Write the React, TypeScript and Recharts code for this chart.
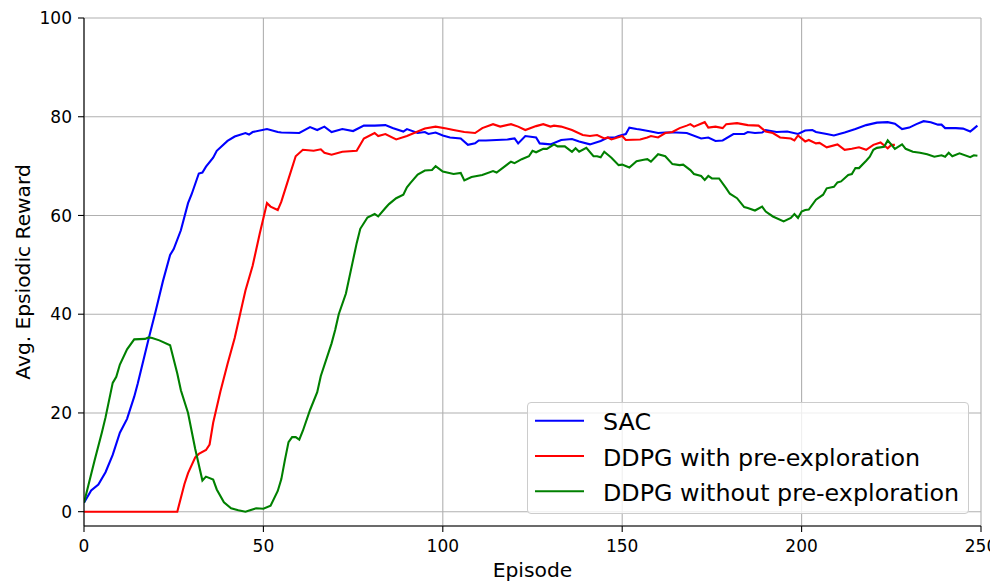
import React from 'react';
import { LineChart, Line, XAxis, YAxis, CartesianGrid, Legend } from 'recharts';

// ---- Data ----
const sacEpisodes = [0, 2, 4, 6, 8, 10, 12, 14, 15, 17, 18, 20, 22, 24, 25, 27, 29, 30, 32, 33, 34, 36, 37, 40, 42, 45, 46, 47, 51, 54, 55, 60, 63, 65, 67, 69, 72, 75, 78, 81, 84, 86, 89, 90, 93, 95, 96, 98, 100, 102, 105, 107, 109, 110, 112, 115, 118, 120, 121, 123, 126, 127, 130, 133, 136, 138, 141, 144, 146, 148, 149, 151, 152, 154, 155, 158, 160, 162, 165, 168, 172, 174, 176, 178, 181, 184, 185, 187, 189, 190, 193, 196, 199, 201, 203, 204, 207, 209, 212, 215, 218, 221, 224, 226, 228, 230, 232, 234, 236, 238, 239, 240, 243, 245, 247, 248, 249];
const sacRewards = [1.8, 4.3, 5.5, 8.0, 11.5, 16.0, 18.8, 23.3, 26.0, 32.0, 35.0, 40.7, 46.7, 52.0, 53.2, 57.0, 62.5, 64.3, 68.5, 68.7, 69.9, 71.7, 73.1, 75.1, 76.0, 76.7, 76.4, 76.9, 77.5, 76.9, 76.8, 76.7, 77.9, 77.3, 78.0, 76.9, 77.5, 77.1, 78.2, 78.2, 78.3, 77.7, 77.0, 77.5, 76.7, 76.9, 76.5, 76.8, 76.2, 75.8, 75.6, 74.3, 74.6, 75.2, 75.2, 75.3, 75.4, 75.6, 74.6, 76.1, 75.8, 74.6, 74.4, 75.3, 75.5, 75.0, 74.4, 75.1, 75.8, 75.8, 76.1, 76.5, 77.8, 77.5, 77.4, 77.0, 76.7, 76.8, 76.8, 76.7, 75.6, 75.8, 75.1, 75.2, 76.5, 76.5, 76.9, 76.7, 76.8, 77.3, 76.9, 77.0, 76.5, 77.2, 77.3, 76.9, 76.5, 76.2, 76.8, 77.5, 78.3, 78.8, 78.9, 78.6, 77.5, 77.8, 78.5, 79.1, 78.9, 78.4, 78.4, 77.7, 77.7, 77.6, 77.0, 77.6, 78.2];

const withPreEpisodes = [0, 26, 28, 29, 31, 32, 34, 35, 36, 38, 40, 42, 44, 45, 47, 49, 51, 52, 54, 55, 57, 59, 61, 64, 66, 67, 69, 72, 76, 78, 81, 82, 84, 87, 90, 93, 95, 98, 101, 103, 106, 109, 111, 114, 116, 119, 121, 123, 126, 128, 130, 131, 133, 136, 139, 141, 143, 145, 146, 147, 150, 151, 155, 157, 158, 160, 162, 164, 166, 168, 169, 170, 173, 174, 176, 178, 179, 182, 185, 188, 190, 192, 194, 197, 198, 199, 201, 202, 204, 205, 207, 210, 212, 214, 216, 218, 220, 222, 224, 225, 226];
const withPreRewards = [0, 0, 5.6, 7.8, 11.0, 11.7, 12.5, 13.6, 18.0, 24.3, 29.9, 35.2, 41.6, 44.8, 49.8, 56.4, 62.5, 61.8, 61.1, 62.8, 67.4, 72.0, 73.3, 73.1, 73.4, 72.7, 72.3, 72.9, 73.1, 75.6, 76.7, 76.1, 76.5, 75.4, 76.1, 77.0, 77.6, 78.0, 77.6, 77.3, 76.9, 76.7, 77.7, 78.5, 78.0, 78.5, 78.0, 77.3, 78.1, 78.5, 78.0, 78.2, 78.0, 77.3, 76.3, 76.1, 76.3, 75.6, 75.8, 75.4, 76.1, 75.3, 75.4, 75.8, 76.1, 75.8, 76.7, 76.9, 77.7, 78.2, 78.5, 78.0, 78.9, 77.8, 78.0, 77.7, 78.5, 78.7, 78.3, 78.2, 77.0, 76.7, 75.8, 75.6, 75.2, 76.2, 75.0, 75.3, 74.6, 74.7, 73.8, 74.4, 73.3, 73.5, 73.8, 73.3, 74.3, 74.8, 73.6, 74.3, 74.3];

const withoutPreEpisodes = [0, 3, 5, 6, 8, 9, 10, 12, 14, 17, 18, 19, 21, 24, 26, 27, 29, 31, 33, 34, 36, 37, 39, 41, 43, 45, 48, 50, 52, 54, 55, 56, 57, 58, 59, 60, 61, 63, 65, 66, 69, 70, 71, 73, 75, 76, 77, 79, 81, 82, 84, 85, 87, 89, 90, 91, 93, 95, 97, 98, 100, 103, 105, 106, 108, 111, 114, 115, 117, 119, 120, 122, 124, 125, 126, 128, 129, 131, 132, 134, 136, 137, 138, 140, 142, 143, 144, 145, 147, 149, 150, 152, 154, 156, 157, 158, 160, 162, 164, 166, 167, 169, 170, 172, 173, 174, 175, 177, 179, 180, 182, 184, 185, 187, 189, 190, 192, 195, 197, 198, 199, 200, 201, 202, 204, 206, 207, 209, 210, 211, 213, 214, 215, 216, 218, 219, 220, 221, 223, 224, 226, 228, 229, 231, 233, 235, 237, 239, 240, 241, 242, 244, 247, 248, 249];
const withoutPreRewards = [1.8, 10.5, 16.1, 19.1, 26.1, 27.3, 29.8, 32.9, 34.9, 35.0, 35.3, 35.2, 34.7, 33.7, 28.0, 24.6, 20.0, 12.7, 6.3, 7.1, 6.5, 4.5, 1.9, 0.7, 0.3, 0.0, 0.7, 0.6, 1.2, 4.2, 6.6, 10.5, 14.1, 15.1, 15.1, 14.6, 16.4, 20.6, 24.2, 27.5, 34.1, 36.8, 40.0, 44.2, 51.0, 54.4, 57.3, 59.6, 60.3, 59.8, 61.5, 62.3, 63.5, 64.2, 65.7, 66.6, 68.3, 69.1, 69.2, 70.0, 68.9, 68.4, 68.6, 67.1, 67.8, 68.2, 69.0, 68.7, 69.8, 70.9, 70.6, 71.4, 72.0, 73.1, 72.8, 73.5, 73.5, 74.4, 74.0, 74.0, 72.9, 73.6, 72.9, 73.7, 72.0, 72.0, 71.8, 72.9, 71.7, 70.2, 70.3, 69.7, 71.0, 71.3, 71.4, 70.9, 72.4, 72.0, 70.4, 70.2, 70.3, 69.2, 68.4, 68.0, 67.2, 68.0, 67.5, 67.5, 65.5, 64.4, 63.5, 61.7, 61.5, 61.0, 61.8, 60.8, 59.8, 58.8, 59.5, 60.3, 59.5, 60.8, 61.1, 61.2, 63.2, 64.2, 65.5, 65.8, 66.7, 66.9, 68.2, 68.4, 69.6, 69.6, 71.1, 71.9, 73.3, 73.7, 73.9, 75.2, 73.5, 74.4, 73.5, 72.9, 72.7, 72.4, 71.9, 72.2, 71.9, 72.7, 72.0, 72.6, 71.8, 72.2, 72.1];

const xTicks = [0, 50, 100, 150, 200, 250];
const yTicks = [0, 20, 40, 60, 80, 100];
const seriesNames = ['SAC', 'DDPG with pre-exploration', 'DDPG without pre-exploration'];
const seriesColors = ['#0000ff', '#ff0000', '#008000'];

const toData = (xs: number[], ys: number[]) => xs.map((x, i) => ({ episode: x, reward: ys[i] }));
const seriesData = [
  toData(sacEpisodes, sacRewards),
  toData(withPreEpisodes, withPreRewards),
  toData(withoutPreEpisodes, withoutPreRewards),
];

const FONT = '"DejaVu Sans", sans-serif';

const YLabel = (props: any) => {
  const vb = props.viewBox || { x: 0, y: 10, width: 76, height: 508 };
  const cx = vb.x + 22;
  const cy = vb.y + vb.height / 2;
  return (
    <text x={cx} y={cy} transform={`rotate(-90 ${cx} ${cy})`} textAnchor="middle" fontSize={20.2} fontFamily={FONT} fill="#000">
      Avg. Epsiodic Reward
    </text>
  );
};

const LegendBox = () => (
  <div
    style={{
      width: 442,
      height: 112,
      boxSizing: 'border-box',
      border: '1px solid #cccccc',
      borderRadius: 4,
      background: 'rgba(255,255,255,0.8)',
    }}
  >
    <svg width={440} height={110} style={{ display: 'block' }}>
      {seriesNames.map((name, i) => (
        <g key={name}>
          <line x1={7} x2={56} y1={17.7 + i * 35.3} y2={17.7 + i * 35.3} stroke={seriesColors[i]} strokeWidth={2.1} />
          <text x={75} y={27.4 + i * 35.3} fontSize={23.8} fontFamily={FONT} fill="#000">
            {name}
          </text>
        </g>
      ))}
    </svg>
  </div>
);

export default function App() {
  return (
    <div style={{ width: 990, height: 573, fontFamily: FONT }}>
      <LineChart width={990} height={573} margin={{ top: 10, right: 17, bottom: 0, left: 0 }}>
        <CartesianGrid stroke="#b0b0b0" strokeWidth={1.1} />
        <XAxis
          dataKey="episode"
          type="number"
          domain={[0, 250]}
          ticks={xTicks}
          allowDataOverflow
          height={55}
          tickSize={6}
          tickMargin={8}
          stroke="#000"
          axisLine={{ stroke: '#000', strokeWidth: 1.1 }}
          tickLine={{ stroke: '#000', strokeWidth: 1.1 }}
          tick={{ fill: '#000', fontSize: 17, fontFamily: FONT }}
          label={{ value: 'Episode', position: 'insideBottom', offset: 4, fill: '#000', fontSize: 20.3, fontFamily: FONT }}
        />
        <XAxis
          xAxisId="top"
          orientation="top"
          type="number"
          domain={[0, 250]}
          height={0}
          tick={false}
          tickLine={false}
          axisLine={{ stroke: '#000', strokeWidth: 1.1 }}
        />
        <YAxis
          type="number"
          domain={[-2.9, 100]}
          ticks={yTicks}
          allowDataOverflow
          width={76}
          tickSize={6}
          tickMargin={6}
          stroke="#000"
          axisLine={{ stroke: '#000', strokeWidth: 1.1 }}
          tickLine={{ stroke: '#000', strokeWidth: 1.1 }}
          tick={{ fill: '#000', fontSize: 17, fontFamily: FONT }}
          label={<YLabel />}
        />
        <YAxis
          yAxisId="right"
          orientation="right"
          type="number"
          domain={[-2.9, 100]}
          width={0}
          tick={false}
          tickLine={false}
          axisLine={{ stroke: '#000', strokeWidth: 1.1 }}
        />
        {seriesData.map((d, i) => (
          <Line
            key={seriesNames[i]}
            data={d}
            dataKey="reward"
            name={seriesNames[i]}
            stroke={seriesColors[i]}
            strokeWidth={2.1}
            dot={false}
            activeDot={false}
            isAnimationActive={false}
          />
        ))}
        <Legend
          layout="vertical"
          align="center"
          verticalAlign="middle"
          content={<LegendBox />}
          wrapperStyle={{ position: 'absolute', left: 519, top: 394, width: 442, height: 112, margin: 0 }}
        />
      </LineChart>
    </div>
  );
}
